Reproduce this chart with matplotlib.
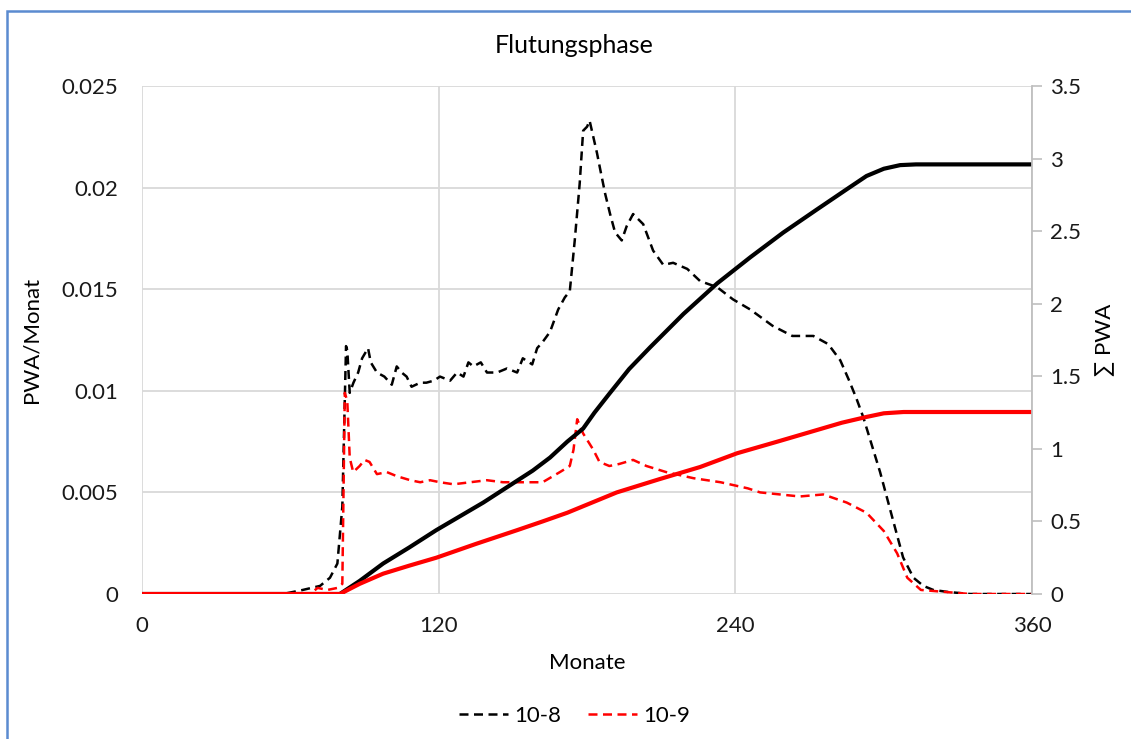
"""
Flutungsphase: PWA per month (dashed, left axis) and cumulative PWA (solid, right axis).
"""

import matplotlib.pyplot as plt
from matplotlib.patches import Rectangle

plt.rcParams['font.family'] = ['Lato', 'DejaVu Sans']

# 10-8: PWA/Monat
months_108 = [0, 57, 65, 72, 76, 79, 81, 82.5, 83, 84, 85.5, 87.4, 89, 91.4, 92.5, 95, 98, 101,
              103, 105, 107, 109, 112.5, 115, 118, 120.5, 124.6, 127.4, 130, 132, 134, 137,
              139.5, 143.6, 147.6, 151.7, 154, 157.8, 159.8, 162, 165, 168.3, 171, 173, 175,
              177, 178.4, 180, 181, 182.5, 184, 185.3, 187.3, 189.3, 191.3, 194, 196, 198.6,
              202.7, 206.7, 210.8, 214.8, 220.5, 225.7, 232.6, 239, 246, 255, 263, 271.5,
              277.5, 282.4, 286, 289, 291.7, 298.5, 303.8, 307.8, 312, 316, 320, 326, 335, 360]
pwa_108 = [0, 0, 0.0002, 0.0004, 0.0008, 0.0015, 0.0043, 0.0122, 0.0120, 0.0099, 0.0104,
           0.0109, 0.0116, 0.0121, 0.0114, 0.0109, 0.0107, 0.0103, 0.0112, 0.0109, 0.0107,
           0.0102, 0.0104, 0.0104, 0.0105, 0.0107, 0.0105, 0.0109, 0.0107, 0.0114, 0.0112,
           0.0114, 0.0109, 0.0109, 0.0111, 0.0109, 0.0116, 0.0113, 0.0121, 0.0124, 0.0129,
           0.0140, 0.0146, 0.0149, 0.0174, 0.0202, 0.0228, 0.0230, 0.0233, 0.0225, 0.0217,
           0.0209, 0.0197, 0.0187, 0.0178, 0.0174, 0.0181, 0.0187, 0.0182, 0.0169, 0.0162,
           0.0163, 0.0160, 0.0154, 0.0151, 0.0145, 0.0140, 0.0132, 0.0127, 0.0127, 0.0123,
           0.0115, 0.0105, 0.0096, 0.0087, 0.0060, 0.0036, 0.0018, 0.0008, 0.0004, 0.0002,
           0.0001, 0, 0]

# 10-9: PWA/Monat
months_109 = [0, 68, 71, 75, 79, 81, 82, 83, 84, 85.4, 88, 90, 92, 95, 99, 103, 108.5, 112.5,
              116.5, 120.5, 126, 132.7, 139.5, 146, 154, 162, 169, 173, 174.5, 176, 178.4,
              182.5, 185, 189, 193, 198.6, 204, 212, 223, 234, 245, 250, 258, 266, 275.5, 285,
              293, 300, 305.4, 309.5, 315, 325, 335, 360]
pwa_109 = [0, 0, 0.0003, 0.0002, 0.0003, 0.0005, 0.0099, 0.0095, 0.0067, 0.0060, 0.0063,
           0.0066, 0.0065, 0.0059, 0.0060, 0.0058, 0.0056, 0.0055, 0.0056, 0.0055, 0.0054,
           0.0055, 0.0056, 0.0055, 0.0055, 0.0055, 0.0060, 0.0063, 0.0071, 0.0086, 0.0079,
           0.0071, 0.0065, 0.0063, 0.0064, 0.0066, 0.0063, 0.0060, 0.0057, 0.0055, 0.0052,
           0.0050, 0.0049, 0.0048, 0.0049, 0.0045, 0.0040, 0.0031, 0.0020, 0.0008, 0.0002,
           0.0001, 0, 0]

# cumulative sums (right axis)
months_cum_108 = [0, 80, 88, 97.5, 108, 119, 128, 138, 148, 158, 165, 172, 178.4, 183, 189,
                  197, 205.5, 219, 232.6, 246, 259.3, 273, 286, 293, 300, 306.6, 313, 360]
cum_108 = [0, 0, 0.09, 0.21, 0.32, 0.44, 0.53, 0.63, 0.74, 0.85, 0.94, 1.05, 1.14, 1.25, 1.38,
           1.55, 1.70, 1.93, 2.14, 2.32, 2.49, 2.65, 2.80, 2.88, 2.93, 2.955, 2.96, 2.96]
months_cum_109 = [0, 80, 88, 97.5, 108, 119, 135, 151.7, 162, 172, 182, 192, 209, 225.7,
                  240.7, 257, 273, 283, 293, 300, 308, 360]
cum_109 = [0, 0, 0.07, 0.14, 0.195, 0.25, 0.345, 0.44, 0.5, 0.56, 0.63, 0.70, 0.79, 0.875,
           0.97, 1.05, 1.13, 1.18, 1.22, 1.245, 1.254, 1.254]

x_ticks = [0, 120, 240, 360]
left_ticks = [0, 0.005, 0.01, 0.015, 0.02, 0.025]
right_ticks = [0, 0.5, 1, 1.5, 2, 2.5, 3, 3.5]

grid_col = '#D9D9D9'
fs = 16

fig = plt.figure(figsize=(11.31, 7.39), dpi=100)
ax = fig.add_axes([0.1256, 0.1962, 0.787, 0.6874])
ax2 = ax.twinx()

# dashed monthly values
ax.plot(months_108, pwa_108, color='black', lw=1.8, dashes=(3.6, 2.2), label='10-8', zorder=3)
ax.plot(months_109, pwa_109, color='#FF0000', lw=1.8, dashes=(3.6, 2.2), label='10-9', zorder=4)

# solid cumulative values
ax2.plot(months_cum_108, cum_108, color='black', lw=3, solid_capstyle='butt')
ax2.plot(months_cum_109, cum_109, color='#FF0000', lw=3, solid_capstyle='butt')

ax.set_xlim(0, 360)
ax.set_ylim(0, 0.025)
ax2.set_ylim(0, 3.5)
ax.set_xticks(x_ticks)
ax.set_xticklabels([str(t) for t in x_ticks])
ax.set_yticks(left_ticks)
ax.set_yticklabels(['0', '0.005', '0.01', '0.015', '0.02', '0.025'])
ax2.set_yticks(right_ticks)
ax2.set_yticklabels(['0', '0.5', '1', '1.5', '2', '2.5', '3', '3.5'])

ax.grid(True, color=grid_col, lw=1.3)
ax.set_axisbelow(True)
ax.tick_params(axis='y', length=0, labelsize=fs, colors='#1a1a1a', pad=17)
ax.tick_params(axis='x', length=0, labelsize=fs, colors='#1a1a1a', pad=16)
ax2.tick_params(axis='y', length=7, width=1.2, color='#BFBFBF', direction='out',
                labelsize=fs, colors='#1a1a1a', pad=6)
ax2.tick_params(axis='y', color='#BFBFBF')
for a in (ax, ax2):
    for side in ('top', 'bottom', 'left', 'right'):
        a.spines[side].set_visible(False)
ax2.spines['right'].set_visible(True)
ax2.spines['right'].set_color('#BFBFBF')
ax2.spines['right'].set_linewidth(1.3)

ax.set_ylabel('PWA/Monat', fontsize=fs)
ax.yaxis.set_label_coords(-0.113, 0.5)
ax2.set_ylabel('∑ PWA', fontsize=fs, labelpad=10, rotation=90)
ax.set_xlabel('Monate', fontsize=fs, labelpad=12)
fig.text(0.508, 0.939, 'Flutungsphase', ha='center', va='center', fontsize=18)

handles, labels = ax.get_legend_handles_labels()
fig.legend(handles, labels, loc='center', bbox_to_anchor=(0.508, 0.031), ncol=2,
           frameon=False, fontsize=fs, handlelength=2.2, handletextpad=0.3, columnspacing=1.2)

# blue chart frame
fig.patches.append(Rectangle((7 / 1131, -0.05), 1.1, 1 - 11 / 739 + 0.05,
                             transform=fig.transFigure, fill=False,
                             edgecolor='#5B8BD0', lw=1.8))

plt.savefig('out.png', dpi=100)
